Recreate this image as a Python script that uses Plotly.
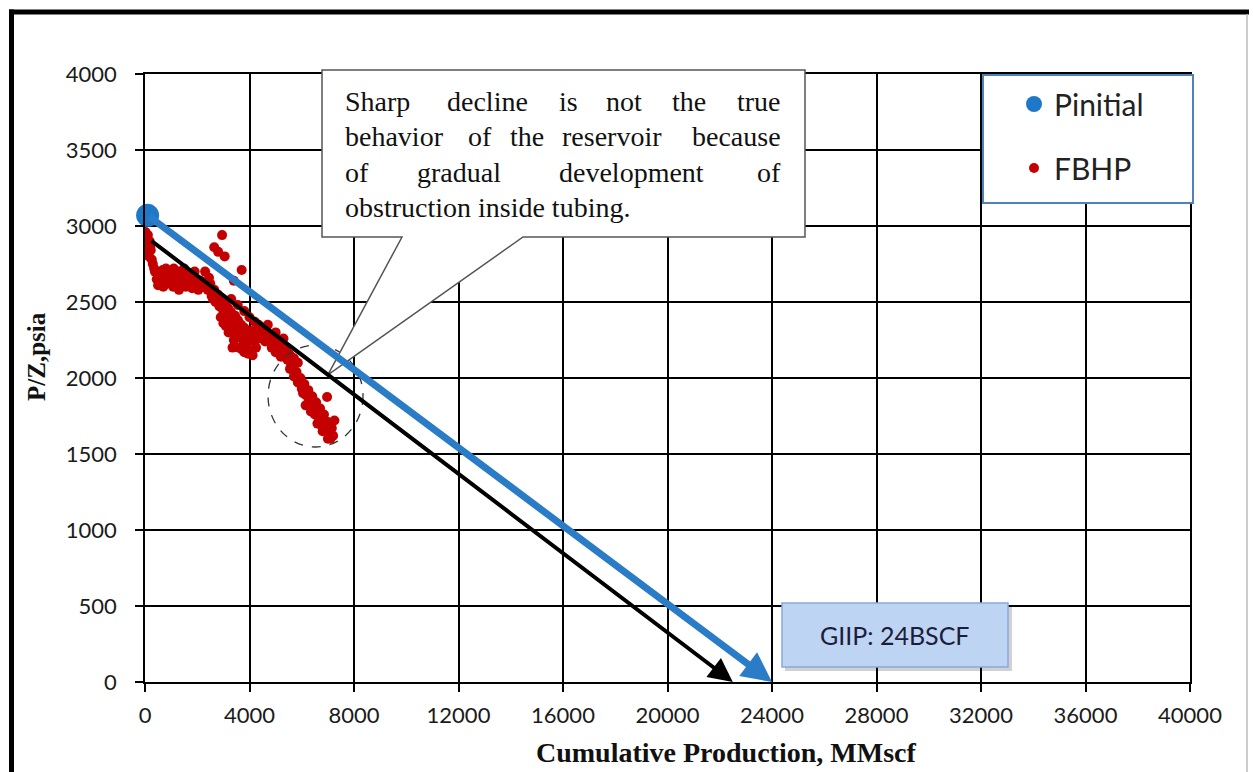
import plotly.graph_objects as go

# ---------------- data ----------------
pinit_x = [100]
pinit_y = [3070]

fbhp_x = [20, 60, 90, 40, 130, 70, 180, 220, 150, 260, 110, 300,
          380, 450, 520, 600, 680, 760, 840, 920, 1000, 1080, 1160, 1240, 1320, 1400, 1480, 1560,
          1640, 1720, 1800, 1880, 1960, 2040, 2120, 2200, 500, 800, 1100, 1500, 1900, 1300, 700,
          2950, 2650, 2800, 3050, 3700, 2300, 2450, 3400,
          2400, 2500, 2550, 2650, 2700, 2780, 2850, 2920, 3000, 3050, 3120, 3180, 3250, 3300, 3380,
          3450, 3500, 3560, 3620, 3680, 3750, 3800, 3870, 3920, 4000, 4050, 4120, 4180, 4250, 3000,
          3200, 3400, 3600, 3800, 3300, 3550, 3800, 4000, 4200, 2900, 3100, 3700, 3950, 3350,
          4350, 4500, 4650, 4800, 4950, 5100, 5250, 5400, 5550, 5700, 5850, 4400, 4600, 4850, 5000,
          5200, 4700, 5000, 5300,
          5450, 5550, 5650, 5700, 5800, 5850, 5950, 6000, 6100, 6150, 6250, 6300, 6400, 6450, 6550,
          6600, 6700, 6750, 6850, 6900, 7000, 7050, 7150, 7100, 7200, 6970, 6600, 6800, 6350, 6150, 7250,
          600, 900, 1200, 1700, 2000, 2300, 2600, 2850, 3150, 3450, 3650, 3900, 4100, 4300,
          5600, 5900, 6250, 6500, 6750, 7000, 5500, 6050, 6650, 200, 350, 3250, 3750, 4550]
fbhp_y = [2960, 2930, 2890, 2870, 2850, 2820, 2900, 2840, 2800, 2780, 2940, 2750,
          2700, 2650, 2690, 2640, 2710, 2660, 2620, 2690, 2650, 2600, 2680, 2640, 2700, 2620, 2660, 2600,
          2680, 2630, 2590, 2660, 2610, 2580, 2640, 2600, 2610, 2720, 2720, 2720, 2700, 2580, 2600,
          2940, 2860, 2830, 2800, 2710, 2700, 2660, 2640,
          2580, 2620, 2540, 2580, 2500, 2550, 2470, 2520, 2440, 2490, 2400, 2460, 2370, 2430, 2340,
          2410, 2300, 2380, 2270, 2350, 2250, 2330, 2220, 2300, 2180, 2270, 2150, 2240, 2200, 2360,
          2300, 2250, 2200, 2170, 2520, 2480, 2440, 2400, 2370, 2400, 2340, 2190, 2160, 2200,
          2350, 2330, 2300, 2280, 2250, 2230, 2200, 2180, 2150, 2130, 2100, 2260, 2240, 2200, 2170,
          2140, 2350, 2300, 2260,
          2120, 2060, 2080, 2010, 2040, 1970, 2000, 1930, 1960, 1890, 1920, 1850, 1880, 1810, 1840,
          1770, 1800, 1730, 1760, 1690, 1710, 1650, 1670, 1600, 1620, 1875, 1700, 1650, 1780, 1820, 1720,
          2670, 2640, 2650, 2640, 2640, 2620, 2520, 2480, 2460, 2330, 2320, 2230, 2310, 2290,
          2090, 1990, 1870, 1760, 1690, 1600, 2160, 1900, 1740, 2860, 2720, 2410, 2280, 2280]

blue_line_x = [100, 24000]
blue_line_y = [3070, 0]
black_line_x = [190, 22500]
black_line_y = [2910, 0]

x_ticks = [0, 4000, 8000, 12000, 16000, 20000, 24000, 28000, 32000, 36000, 40000]
x_tick_labels = ["0", "4000", "8000", "12000", "16000", "20000", "24000", "28000", "32000", "36000", "40000"]
y_ticks = [0, 500, 1000, 1500, 2000, 2500, 3000, 3500, 4000]
y_tick_labels = ["0", "500", "1000", "1500", "2000", "2500", "3000", "3500", "4000"]
x_range = [0, 40000]
y_range = [0, 4000]

callout_tip = [7000, 2020]
circle_x = [4710, 8345]
circle_y = [1546, 2217]
giip_label = "GIIP: 24BSCF"
x_title = "Cumulative Production, MMscf"
y_title = "P/Z,psia"

# ---------------- layout helpers (pixel -> paper) ----------------
W, H = 1253, 772
L, R, T, B = 145, 1190, 74, 682


def fx(p):
    return (p - L) / (R - L)


def fy(p):
    return (B - p) / (B - T)


def dx(v):
    return (v - x_range[0]) / (x_range[1] - x_range[0])


def dy(v):
    return (v - y_range[0]) / (y_range[1] - y_range[0])


fig = go.Figure()

fig.add_trace(go.Scatter(x=fbhp_x, y=fbhp_y, mode="markers", name="FBHP",
                         legendgroup="b", legendrank=2,
                         marker=dict(color="#C50000", size=10, line=dict(width=0))))
fig.add_trace(go.Scatter(x=pinit_x, y=pinit_y, mode="markers", name="Pinitial",
                         legendgroup="a", legendrank=1, cliponaxis=False,
                         marker=dict(color="#1E78C8", size=23, line=dict(width=0))))

annotations = []
# arrows
annotations.append(dict(x=black_line_x[1], y=black_line_y[1], ax=black_line_x[0], ay=black_line_y[0],
                        xref="x", yref="y", axref="x", ayref="y", text="", showarrow=True,
                        arrowhead=2, arrowsize=1.2, arrowwidth=4, arrowcolor="#000000"))
annotations.append(dict(x=blue_line_x[1], y=blue_line_y[1], ax=blue_line_x[0], ay=blue_line_y[0],
                        xref="x", yref="y", axref="x", ayref="y", text="", showarrow=True,
                        arrowhead=2, arrowsize=0.85, arrowwidth=7, arrowcolor="#2A7CC6"))

serif = "Liberation Serif"
cfont = dict(family=serif, size=28, color="#111111")


def word(text, xp, yp, anchor):
    annotations.append(dict(text=text, x=fx(xp), y=fy(yp), xref="paper", yref="paper",
                            xanchor=anchor, yanchor="middle", showarrow=False, font=cfont))


# callout text (justified)
word("Sharp", 343, 102, "left"); word("decline", 487, 102, "center"); word("is", 568, 102, "center")
word("not", 624, 102, "center"); word("the", 689, 102, "center"); word("true", 783, 102, "right")
word("behavior", 343, 137, "left"); word("of", 480, 137, "center"); word("the", 527, 137, "center")
word("reservoir", 612, 137, "center"); word("because", 783, 137, "right")
word("of", 343, 172, "left"); word("gradual", 459, 172, "center"); word("development", 631, 172, "center")
word("of", 783, 172, "right")
word("obstruction inside tubing.", 343, 207, "left")

# GIIP label
annotations.append(dict(text=giip_label, x=fx(895), y=fy(635), xref="paper", yref="paper",
                        xanchor="center", yanchor="middle", showarrow=False,
                        font=dict(family="Lato", size=25, color="#1c1c3c")))
# axis titles
annotations.append(dict(text="<b>" + x_title + "</b>", x=fx(726), y=fy(752), xref="paper", yref="paper",
                        xanchor="center", yanchor="middle", showarrow=False,
                        font=dict(family=serif, size=28, color="#111111")))
annotations.append(dict(text="<b>" + y_title + "</b>", x=fx(36), y=fy(357), xref="paper", yref="paper",
                        xanchor="center", yanchor="middle", showarrow=False, textangle=-90,
                        font=dict(family=serif, size=25, color="#111111")))

shapes = []
# outer frame
shapes.append(dict(type="line", xref="paper", yref="paper", x0=fx(11.5), x1=fx(11.5), y0=fy(9.5), y1=fy(790),
                   line=dict(color="#000000", width=5)))
shapes.append(dict(type="line", xref="paper", yref="paper", x0=fx(9), x1=fx(1249), y0=fy(12), y1=fy(12),
                   line=dict(color="#000000", width=5)))
shapes.append(dict(type="line", xref="paper", yref="paper", x0=fx(1247), x1=fx(1247), y0=fy(14), y1=fy(790),
                   line=dict(color="#BBBBBB", width=1.5)))
# dashed circle
shapes.append(dict(type="circle", xref="x", yref="y", x0=circle_x[0], x1=circle_x[1],
                   y0=circle_y[0], y1=circle_y[1], layer="above",
                   line=dict(color="#333333", width=1.3, dash="dash")))
# callout box with pointer
tx, ty = dx(callout_tip[0]), dy(callout_tip[1])
path = (f"M {fx(322)},{fy(70)} L {fx(805)},{fy(70)} L {fx(805)},{fy(237)} L {fx(523)},{fy(237)} "
        f"L {tx},{ty} L {fx(402)},{fy(237)} L {fx(322)},{fy(237)} Z")
shapes.append(dict(type="path", xref="paper", yref="paper", path=path, layer="above",
                   fillcolor="#FFFFFF", line=dict(color="#555555", width=1.5)))
# legend box
shapes.append(dict(type="rect", xref="paper", yref="paper", x0=fx(983), x1=fx(1193), y0=fy(203), y1=fy(75),
                   layer="above", fillcolor="#FFFFFF", line=dict(color="#4F81BD", width=2)))
# GIIP box with shadow
shapes.append(dict(type="rect", xref="paper", yref="paper", x0=fx(785), x1=fx(1012), y0=fy(671), y1=fy(607),
                   layer="above", fillcolor="rgba(0,0,0,0.18)", line=dict(width=0)))
shapes.append(dict(type="rect", xref="paper", yref="paper", x0=fx(782), x1=fx(1008), y0=fy(667), y1=fy(603),
                   layer="above", fillcolor="#BED4F3", line=dict(color="#86A9DD", width=1.5)))

axis_common = dict(showgrid=True, gridcolor="#000000", gridwidth=1.6, showline=True, linecolor="#000000",
                   linewidth=1.6, mirror=True, ticks="outside", ticklen=8, tickcolor="#000000",
                   tickwidth=1.6, zeroline=False,
                   tickfont=dict(family="Lato", size=22, color="#1a1a1a"))

fig.update_layout(
    width=W, height=H,
    margin=dict(l=L, r=W - R, t=T, b=H - B),
    paper_bgcolor="#FFFFFF", plot_bgcolor="#FFFFFF",
    xaxis=dict(range=x_range, tickvals=x_ticks, ticktext=x_tick_labels, ticklabelstandoff=5, **axis_common),
    yaxis=dict(range=y_range, tickvals=y_ticks, ticktext=y_tick_labels, ticklabelstandoff=14, **axis_common),
    showlegend=True,
    legend=dict(x=fx(1014), y=fy(78), xanchor="left", yanchor="top", bgcolor="rgba(0,0,0,0)",
                borderwidth=0, tracegroupgap=22, traceorder="grouped", itemsizing="trace",
                font=dict(family="Lato", size=30, color="#222222")),
    annotations=annotations,
    shapes=shapes,
)

fig.write_html("out.html")
